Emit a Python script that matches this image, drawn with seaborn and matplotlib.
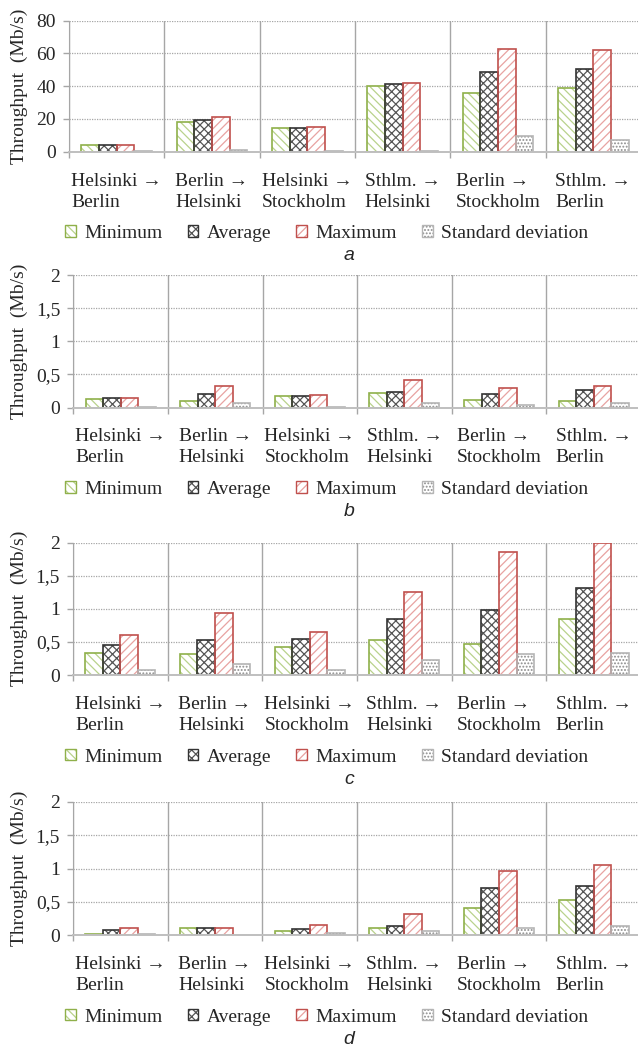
import matplotlib
matplotlib.use("Agg")
import matplotlib.pyplot as plt
import matplotlib.patches as mpatches
from matplotlib.ticker import FuncFormatter
import seaborn as sns
import pandas as pd

sns.set_style("white")
plt.rcParams["font.family"] = ["Liberation Serif", "DejaVu Serif"]
plt.rcParams["hatch.linewidth"] = 0.9

routes = ["Helsinki →\nBerlin", "Berlin →\nHelsinki", "Helsinki →\nStockholm",
          "Sthlm. →\nHelsinki", "Berlin →\nStockholm", "Sthlm. →\nBerlin"]
stats = ["Minimum", "Average", "Maximum", "Standard deviation"]

# panel a (Mb/s)
a_min = [4.1, 17.9, 14.4, 40.3, 35.8, 38.7]
a_avg = [4.1, 19.3, 14.4, 41.3, 48.9, 50.7]
a_max = [4.1, 21.2, 15.0, 41.7, 62.6, 62.2]
a_sd = [0.2, 1.3, 0.2, 0.2, 9.3, 7.3]

# panel b
b_min = [0.13, 0.10, 0.17, 0.22, 0.12, 0.10]
b_avg = [0.15, 0.20, 0.18, 0.24, 0.20, 0.27]
b_max = [0.15, 0.32, 0.19, 0.42, 0.29, 0.32]
b_sd = [0.005, 0.07, 0.005, 0.07, 0.04, 0.07]

# panel c
c_min = [0.33, 0.32, 0.43, 0.53, 0.47, 0.84]
c_avg = [0.46, 0.53, 0.55, 0.84, 0.98, 1.32]
c_max = [0.61, 0.94, 0.65, 1.26, 1.85, 2.0]
c_sd = [0.08, 0.17, 0.08, 0.22, 0.31, 0.33]

# panel d
d_min = [0.02, 0.10, 0.056, 0.10, 0.40, 0.53]
d_avg = [0.07, 0.10, 0.087, 0.13, 0.70, 0.74]
d_max = [0.10, 0.10, 0.15, 0.32, 0.96, 1.06]
d_sd = [0.015, 0.0, 0.025, 0.06, 0.11, 0.13]

ticks_a = [0, 20, 40, 60, 80]
ticks_bcd = [0, 0.5, 1, 1.5, 2]

# edge colour, hatch colour, hatch
styles = {
    "Minimum": ("#8fb04a", "#b9d28c", "\\\\\\\\"),
    "Average": ("#333333", "#555555", "xxxx"),
    "Maximum": ("#c0504d", "#e8a3a1", "////"),
    "Standard deviation": ("#b5b5b5", "#8c8c8c", "....."),
}

W, H = 638, 1046
# left, top, bottom in pixels
panels = [
    ("a", [a_min, a_avg, a_max, a_sd], ticks_a, 69, 20.7, 151.7),
    ("b", [b_min, b_avg, b_max, b_sd], ticks_bcd, 73.3, 275, 407.5),
    ("c", [c_min, c_avg, c_max, c_sd], ticks_bcd, 73, 542.5, 675),
    ("d", [d_min, d_avg, d_max, d_sd], ticks_bcd, 73, 802, 935),
]

fig = plt.figure(figsize=(W / 100, H / 100), dpi=100)


def fmt(v, pos):
    s = f"{v:g}"
    return s.replace(".", ",")


for letter, series, yticks, left, top, bottom in panels:
    ax = fig.add_axes([left / W, 1 - bottom / H, (641 - left) / W, (bottom - top) / H])
    df = pd.DataFrame({
        "route": routes * 4,
        "stat": [s for s in stats for _ in routes],
        "value": [v for vals in series for v in vals],
    })
    # hatched fill first, then a plain outline on top
    for layer in range(2):
        sns.barplot(data=df, x="route", y="value", hue="stat", hue_order=stats,
                    order=routes, width=0.74, gap=0, ax=ax, legend=False)
    conts = ax.containers
    for cont, stat in zip(conts[:4], stats):
        edge, hcol, hatch = styles[stat]
        for p in cont.patches:
            p.set_facecolor("white")
            p.set_edgecolor(hcol)
            p.set_hatch(hatch)
            p.set_linewidth(0)
    for cont, stat in zip(conts[4:8], stats):
        edge, hcol, hatch = styles[stat]
        for p in cont.patches:
            p.set_facecolor("none")
            p.set_edgecolor(edge)
            p.set_linewidth(1.2)

    ax.set_xlim(-0.5, len(routes) - 0.5)
    ax.set_ylim(0, yticks[-1])
    ax.set_yticks(yticks)
    ax.yaxis.set_major_formatter(FuncFormatter(fmt))
    ax.set_xticks(range(len(routes)))
    ax.set_xticks([i - 0.5 for i in range(len(routes) + 1)], minor=True)
    ax.set_xlabel("")
    ax.set_ylabel("Throughput  (Mb/s)", fontsize=14)
    ax.yaxis.set_label_coords(-(left - 28) / (641 - left), 0.5)

    ax.grid(axis="y", which="major", color="#a6a6a6", linestyle=(0, (1, 1)), linewidth=0.9)
    ax.grid(axis="x", which="minor", color="#a6a6a6", linestyle="-", linewidth=1.0)
    ax.grid(axis="x", which="major", visible=False)
    ax.set_axisbelow(True)
    for side in ["top", "right"]:
        ax.spines[side].set_visible(False)
    ax.spines["left"].set_color("#a6a6a6")
    ax.spines["bottom"].set_color("#bfbfbf")
    ax.spines["bottom"].set_linewidth(1.4)

    ax.tick_params(axis="y", which="major", direction="out", length=4.3, width=1,
                   color="#a6a6a6", left=True, labelsize=14, pad=5)
    ax.tick_params(axis="x", which="major", length=0, labelsize=14, pad=15)
    ax.tick_params(axis="x", which="minor", direction="out", length=4.3, width=1,
                   color="#a6a6a6", bottom=True)
    for lbl in ax.get_xticklabels():
        lbl.set_multialignment("left")
        lbl.set_linespacing(1.32)

    handles = []
    for stat in stats:
        edge, hcol, hatch = styles[stat]
        fill = mpatches.Patch(facecolor="white", edgecolor=hcol, hatch=hatch, linewidth=0)
        outline = mpatches.Patch(facecolor="none", edgecolor=edge, linewidth=1)
        handles.append((fill, outline))
    fig.legend(handles, stats, loc="center", ncol=4, frameon=False, fontsize=14,
               bbox_to_anchor=(327 / W, 1 - (bottom + 82) / H),
               handlelength=0.55, handleheight=0.55, handletextpad=0.45,
               columnspacing=1.27, borderaxespad=0, borderpad=0)
    fig.text(349 / W, 1 - (bottom + 104) / H, letter, fontsize=14, style="italic",
             family="Liberation Sans", ha="center", va="center")

fig.savefig("out.png", dpi=100)
